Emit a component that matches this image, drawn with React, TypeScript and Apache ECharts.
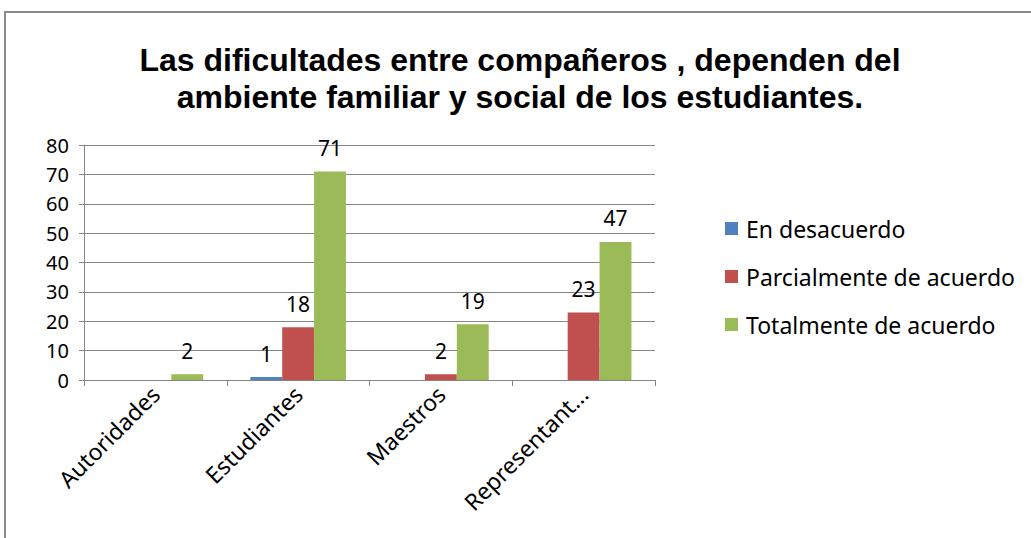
import React, { useEffect, useRef } from "react";
import * as echarts from "echarts";

const categories = ["Autoridades", "Estudiantes", "Maestros", "Representant..."];
const seriesNames = ["En desacuerdo", "Parcialmente de acuerdo", "Totalmente de acuerdo"];
const desacuerdo = [null, 1, null, null];
const parcialmente = [null, 18, 2, 23];
const totalmente = [2, 71, 19, 47];
const colors = ["#4F81BD", "#C0504D", "#9BBB59"];
const yTicks = { min: 0, max: 80, interval: 10 };

export default function App() {
  const ref = useRef<HTMLDivElement>(null);
  useEffect(() => {
    const chart = echarts.init(ref.current!, null, { renderer: "svg" });
    const font = "'Noto Sans', sans-serif";
    const mk = (name: string, data: any[], color: string) => ({
      name,
      type: "bar",
      data,
      barGap: "0%",
      barCategoryGap: "33%",
      itemStyle: { color },
      label: {
        show: true,
        position: "top",
        distance: 13,
        color: "#000",
        fontSize: 21,
        fontFamily: font,
      },
    });
    chart.setOption({
      animation: false,
      backgroundColor: "#fff",
      color: colors,
      title: {
        text: "Las dificultades entre compañeros , dependen del\nambiente familiar y social de los estudiantes.",
        left: 520,
        textAlign: "center",
        top: 41,
        padding: 0,
        textStyle: {
          fontFamily: "'Liberation Sans', Arial, sans-serif",
          fontWeight: "bold",
          fontSize: 32,
          lineHeight: 37,
          color: "#000",
        },
      },
      legend: {
        orient: "vertical",
        left: 725,
        top: 217,
        padding: 0,
        itemWidth: 13,
        itemHeight: 13,
        itemGap: 25,
        icon: "rect",
        data: seriesNames,
        textStyle: { fontFamily: font, fontSize: 23, color: "#000", padding: [0, 0, 0, 3] },
      },
      grid: { left: 84, top: 145, width: 571, height: 235 },
      xAxis: {
        type: "category",
        data: categories,
        axisLine: { lineStyle: { color: "#868686", width: 1 } },
        axisTick: { show: true, length: 6, lineStyle: { color: "#868686" } },
        axisLabel: {
          rotate: 45,
          interval: 0,
          margin: 10,
          color: "#000",
          fontSize: 23,
          fontFamily: font,
        },
      },
      yAxis: {
        type: "value",
        min: yTicks.min,
        max: yTicks.max,
        interval: yTicks.interval,
        axisLine: { show: true, lineStyle: { color: "#868686", width: 1 } },
        axisTick: { show: true, length: 5, lineStyle: { color: "#868686" } },
        splitLine: { lineStyle: { color: "#868686", width: 1 } },
        axisLabel: { color: "#000", fontSize: 20, fontFamily: font, margin: 15 },
      },
      graphic: [
        {
          type: "rect",
          shape: { x: 5, y: 12, width: 1040, height: 540 },
          style: { fill: "none", stroke: "#8a8a8a", lineWidth: 2 },
          silent: true,
        },
      ],
      series: [
        mk(seriesNames[0], desacuerdo, colors[0]),
        mk(seriesNames[1], parcialmente, colors[1]),
        mk(seriesNames[2], totalmente, colors[2]),
      ],
    });
    return () => chart.dispose();
  }, []);
  return (
    <div
      ref={ref}
      style={{ position: "fixed", left: 0, top: 0, width: 1031, height: 538 }}
    />
  );
}
